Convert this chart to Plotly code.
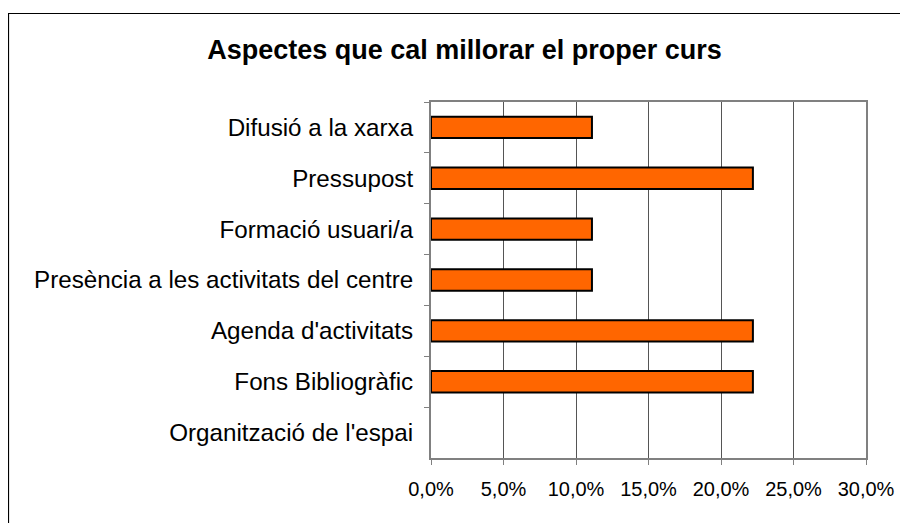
import plotly.graph_objects as go

categories = [
    "Difusió a la xarxa",
    "Pressupost",
    "Formació usuari/a",
    "Presència a les activitats del centre",
    "Agenda d'activitats",
    "Fons Bibliogràfic",
    "Organització de l'espai",
]
values = [0.111, 0.222, 0.111, 0.111, 0.222, 0.222, 0.0]
title_text = "Aspectes que cal millorar el proper curs"

# page body has an 8px margin, so the figure is drawn 8px smaller
W, H = 900, 515
L, R, T, B = 423, 858, 94, 450
pw, ph = R - L, B - T

def px2x(px):
    return (px - L) / pw

def py2y(py):
    return (B - py) / ph

fig = go.Figure(go.Bar(
    x=values, y=categories, orientation="h",
    marker=dict(color="#FF6600",
                line=dict(color="#000000", width=[0 if v == 0 else 2 for v in values])),
    width=0.42,
    hoverinfo="skip",
))

fig.update_layout(
    width=W, height=H,
    margin=dict(l=L, r=W - R, t=T, b=H - B, pad=0),
    paper_bgcolor="white", plot_bgcolor="white",
    separators=",.",
    font=dict(family="Liberation Sans, Arial, sans-serif", color="black"),
    title=dict(text="<b>" + title_text + "</b>", x=456.5 / W, xref="container", xanchor="center",
               y=1 - 42 / H, yref="container", yanchor="middle",
               font=dict(size=27, color="black")),
    showlegend=False,
    xaxis=dict(
        range=[0, 0.30], dtick=0.05, tick0=0, tickformat=".1%",
        showgrid=True, gridcolor="#555555", gridwidth=1,
        showline=True, linecolor="#808080", linewidth=2, mirror=True,
        ticks="outside", ticklen=5, tickcolor="#808080", tickwidth=1,
        tickfont=dict(size=20), ticklabelstandoff=7, zeroline=False, fixedrange=True,
    ),
    yaxis=dict(
        categoryorder="array", categoryarray=categories, autorange="reversed",
        showline=True, linecolor="#808080", linewidth=2, mirror=True,
        ticks="outside", ticklen=5, tickcolor="#808080", tickwidth=1,
        tickson="boundaries", showgrid=False,
        tickfont=dict(size=24.2), ticklabelstandoff=11, fixedrange=True,
    ),
    shapes=[dict(type="rect", xref="paper", yref="paper",
                 x0=px2x(0.5), x1=px2x(910), y0=py2y(5.5), y1=py2y(530),
                 line=dict(color="black", width=1.2), layer="below")],
)

fig.write_html("out.html")
